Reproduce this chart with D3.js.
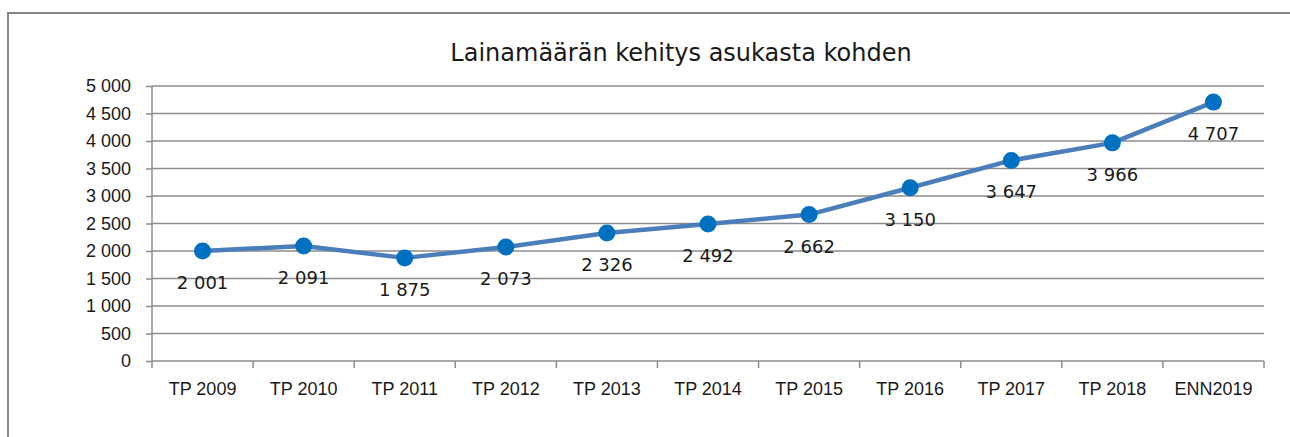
<!DOCTYPE html>
<html>
<head>
<meta charset="utf-8">
<script src="https://d3js.org/d3.v7.min.js"></script>
<style>
  body { margin: 0; background: #fff; }
  svg { display: block; font-family: "DejaVu Sans", Verdana, sans-serif; }
</style>
</head>
<body>
<div id="chart"></div>
<script>
// data
var years = ["TP 2009", "TP 2010", "TP 2011", "TP 2012", "TP 2013", "TP 2014",
             "TP 2015", "TP 2016", "TP 2017", "TP 2018", "ENN2019"];
var loanPerCapita = [2001, 2091, 1875, 2073, 2326, 2492, 2662, 3150, 3647, 3966, 4707];
var yTicks = [0, 500, 1000, 1500, 2000, 2500, 3000, 3500, 4000, 4500, 5000];
var title = "Lainamäärän kehitys asukasta kohden";

var W = 1290, H = 437;
var margin = {top: 86, right: 26, bottom: 76, left: 152},
    width = W - margin.left - margin.right,
    height = H - margin.top - margin.bottom;

// thousands with a space, like the Finnish original
function fmt(v) { return d3.format(",")(v).replace(/,/g, "\u00a0"); }

var svg = d3.select("#chart").append("svg")
    .attr("width", W)
    .attr("height", H);

// outer frame (runs off the right and bottom edge)
svg.append("rect")
  .attr("x", 8).attr("y", 13)
  .attr("width", W).attr("height", H)
  .attr("fill", "none")
  .attr("stroke", "#868686")
  .attr("stroke-width", 2);

svg.append("text")
  .attr("x", 681).attr("y", 61)
  .attr("text-anchor", "middle")
  .style("font-size", "24px")
  .attr("fill", "#1a1a1a")
  .text(title);

var g = svg.append("g")
  .attr("transform", "translate(" + margin.left + "," + margin.top + ")");

var x = d3.scaleBand().domain(years).range([0, width]);
var y = d3.scaleLinear().domain([0, 5000]).range([height, 0]);

// gridlines
g.selectAll(".grid")
  .data(yTicks.filter(function(d) { return d > 0; }))
  .enter().append("line")
    .attr("x1", 0).attr("x2", width)
    .attr("y1", function(d) { return y(d); })
    .attr("y2", function(d) { return y(d); })
    .attr("stroke", "#8c8c8c")
    .attr("stroke-width", 1.5);

// Y axis
var yAxis = g.append("g")
  .call(d3.axisLeft(y).tickValues(yTicks).tickFormat(fmt).tickSize(6).tickPadding(15));
yAxis.select(".domain").attr("stroke", "#8c8c8c").attr("stroke-width", 1.5)
  .attr("d", "M0," + height + "V0");
yAxis.selectAll(".tick line").attr("stroke", "#8c8c8c").attr("stroke-width", 1.5);
yAxis.selectAll("text").style("font-size", "18px").attr("fill", "#1a1a1a");

// X axis, ticks between categories
var xAxis = g.append("g")
  .attr("transform", "translate(0," + height + ")")
  .call(d3.axisBottom(x).tickSize(0).tickPadding(21));
xAxis.select(".domain").attr("stroke", "#8c8c8c").attr("stroke-width", 1.5)
  .attr("d", "M0,0H" + width);
xAxis.selectAll("text").style("font-size", "18px").attr("fill", "#1a1a1a");
xAxis.selectAll(".sep")
  .data(d3.range(years.length + 1))
  .enter().append("line")
    .attr("x1", function(i) { return i * x.step(); })
    .attr("x2", function(i) { return i * x.step(); })
    .attr("y1", 0).attr("y2", 7)
    .attr("stroke", "#8c8c8c")
    .attr("stroke-width", 1.5);

var cx = function(d, i) { return x(years[i]) + x.bandwidth() / 2; };

// line
var line = d3.line()
  .x(cx)
  .y(function(d) { return y(d); });

g.append("path")
  .datum(loanPerCapita)
  .attr("d", line)
  .attr("fill", "none")
  .attr("stroke", "#4a7ebb")
  .attr("stroke-width", 4.5)
  .attr("stroke-linejoin", "round");

// markers
g.selectAll(".dot")
  .data(loanPerCapita)
  .enter().append("circle")
    .attr("cx", cx)
    .attr("cy", function(d) { return y(d); })
    .attr("r", 8.5)
    .attr("fill", "#0070c0");

// value labels below points
g.selectAll(".lbl")
  .data(loanPerCapita)
  .enter().append("text")
    .attr("x", cx)
    .attr("y", function(d) { return y(d) + 38; })
    .attr("text-anchor", "middle")
    .style("font-size", "18px")
    .attr("fill", "#1a1a1a")
    .text(fmt);
</script>
</body>
</html>
